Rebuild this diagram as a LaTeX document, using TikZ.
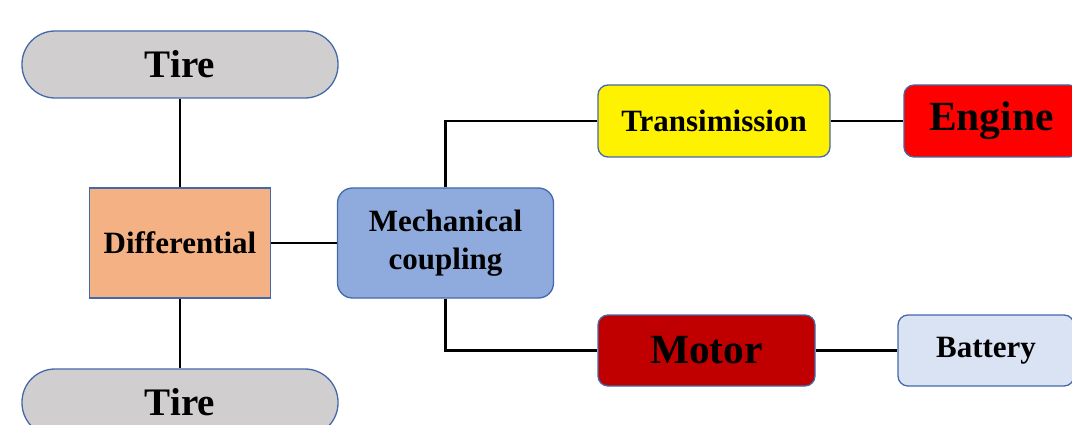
\documentclass[tikz,border=0pt]{standalone}
\usepackage{fontspec}
\setmainfont{Liberation Serif}
\definecolor{bord}{RGB}{68,105,170}
\definecolor{tiregray}{RGB}{208,206,206}
\definecolor{diffor}{RGB}{244,177,131}
\definecolor{mcblue}{RGB}{143,170,220}
\definecolor{motred}{RGB}{192,0,0}
\definecolor{batblue}{RGB}{218,227,243}
\begin{document}
\begin{tikzpicture}[x=1pt,y=-1pt,
  box/.style={draw=bord,line width=1.3pt,inner sep=0pt,font=\bfseries,align=center},
  tirebox/.style={box,fill=tiregray,minimum width=316pt,minimum height=67pt,rounded corners=33pt,font=\bfseries\fontsize{39}{41}\selectfont},
  rbox/.style={box,rounded corners=10pt},
  small/.style={font=\bfseries\fontsize{31}{38}\selectfont},
  big/.style={font=\bfseries\fontsize{41.5}{44}\selectfont},
  conn/.style={line width=2.4pt,black}]
\useasboundingbox (0,0) rectangle (1072,425);
\node[tirebox] (t1) at (180,64.5) {Tire};
\node[tirebox] (t2) at (180,402.5) {Tire};
\node[box,fill=diffor,small,minimum width=181pt,minimum height=110pt] (diff) at (180,243) {Differential};
\node[box,fill=mcblue,small,rounded corners=15pt,minimum width=216pt,minimum height=110pt] (mc) at (445.5,243) {Mechanical\\coupling};
\node[rbox,fill=yellow,small,minimum width=232pt,minimum height=72pt] (tr) at (714,121) {Transimission};
\node[rbox,fill=red,big,minimum width=175pt,minimum height=72pt] (eng) at (991.5,121) {Engine};
\node[rbox,fill=motred,big,minimum width=217pt,minimum height=71pt] (mot) at (706.5,350.5) {Motor};
\node[rbox,fill=batblue,small,minimum width=176pt,minimum height=71pt] (bat) at (986,350.5) {Battery};
\draw[conn] (t1.south) -- (diff.north);
\draw[conn] (diff.south) -- (t2.north);
\draw[conn] (diff.east) -- (mc.west);
\draw[conn] (mc.north) |- (tr.west);
\draw[conn] (mc.south) |- (mot.west);
\draw[conn] (tr.east) -- (eng.west);
\draw[conn] (mot.east) -- (bat.west);
\end{tikzpicture}
\end{document}
